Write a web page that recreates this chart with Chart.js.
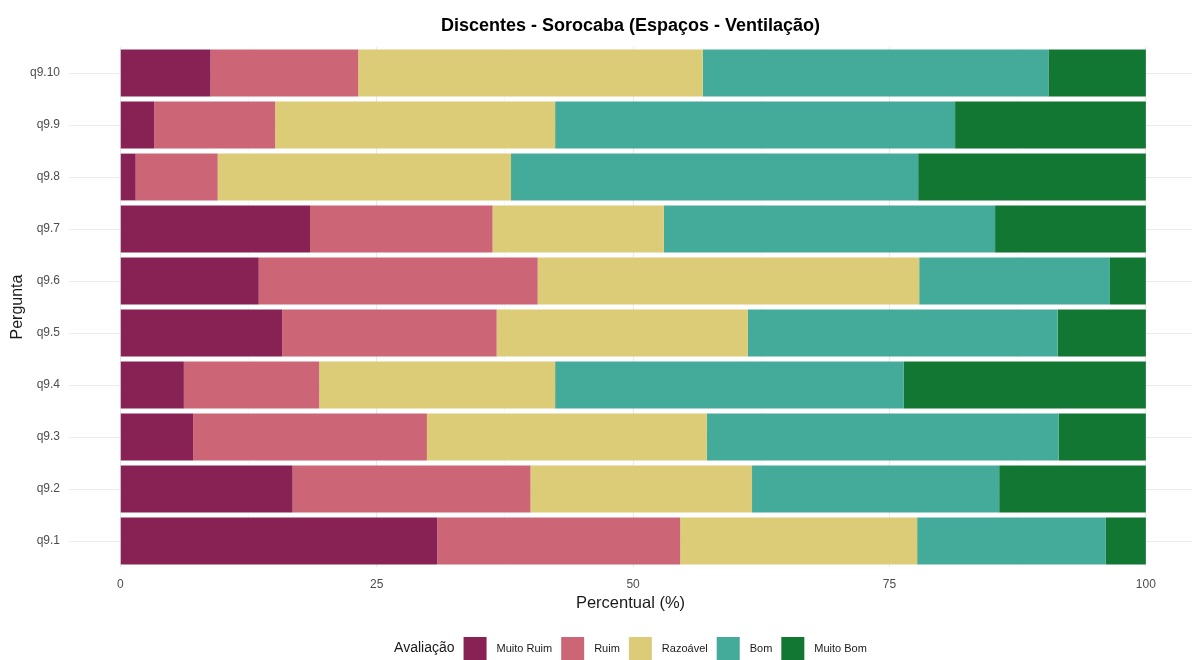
<!DOCTYPE html>
<html>
<head>
<meta charset="utf-8">
<title>Discentes - Sorocaba (Espaços - Ventilação)</title>
<script src="https://cdn.jsdelivr.net/npm/chart.js@4/dist/chart.umd.min.js"></script>
<style>
    html, body { margin: 0; padding: 0; background: #fff; }
    #chart { display: block; }
</style>
</head>
<body>
<canvas id="chart" width="1192" height="660"></canvas>
<script>
// perguntas (de baixo para cima)
var categories = ["q9.1", "q9.2", "q9.3", "q9.4", "q9.5", "q9.6", "q9.7", "q9.8", "q9.9", "q9.10"];

// percentual por avaliação
var muitoRuim = [30.9, 16.8, 7.1, 6.2, 15.8, 13.5, 18.5, 1.5, 3.3, 8.8];
var ruim      = [23.7, 23.2, 22.8, 13.2, 20.9, 27.2, 17.8, 8.0, 11.8, 14.4];
var razoavel  = [23.1, 21.6, 27.3, 23.0, 24.5, 37.2, 16.7, 28.6, 27.3, 33.6];
var bom       = [18.4, 24.1, 34.3, 34.0, 30.2, 18.6, 32.3, 39.7, 39.0, 33.7];
var muitoBom  = [3.9, 14.3, 8.5, 23.6, 8.6, 3.5, 14.7, 22.2, 18.6, 9.5];

var seriesNames = ["Muito Ruim", "Ruim", "Razoável", "Bom", "Muito Bom"];
var xTicks = [0, 12.5, 25, 37.5, 50, 62.5, 75, 87.5, 100];

var colors = ["#882255", "#CC6677", "#DDCC77", "#44AA99", "#117733"];
var seriesValues = [muitoRuim, ruim, razoavel, bom, muitoBom];

Chart.defaults.font.family = "'Liberation Sans', Arial, sans-serif";

var datasets = seriesNames.map(function (name, i) {
    return {
        label: name,
        data: seriesValues[i],
        backgroundColor: colors[i],
        borderWidth: 0,
        barPercentage: 0.9,
        categoryPercentage: 1.0
    };
});

// legenda no estilo do ggplot: título à esquerda, itens em linha
var inlineLegend = {
    id: "inlineLegend",
    afterDraw: function (chart) {
        var ctx = chart.ctx;
        var area = chart.chartArea;
        var box = 23, gapTitle = 9, gapText = 10, gapItem = 9;
        var cy = 648.5;

        ctx.save();
        ctx.font = "14px 'Liberation Sans', Arial, sans-serif";
        var titleW = ctx.measureText("Avaliação").width;
        ctx.font = "11px 'Liberation Sans', Arial, sans-serif";
        var widths = seriesNames.map(function (n) { return ctx.measureText(n).width; });

        var total = titleW + gapTitle;
        widths.forEach(function (w, i) {
            total += box + gapText + w + (i < widths.length - 1 ? gapItem : 0);
        });

        var x = (area.left + area.right) / 2 - total / 2;
        ctx.textBaseline = "middle";
        ctx.textAlign = "left";
        ctx.fillStyle = "#1a1a1a";
        ctx.font = "14px 'Liberation Sans', Arial, sans-serif";
        ctx.fillText("Avaliação", x, cy);
        x += titleW + gapTitle;

        ctx.font = "11px 'Liberation Sans', Arial, sans-serif";
        seriesNames.forEach(function (n, i) {
            ctx.fillStyle = colors[i];
            ctx.fillRect(x, cy - box / 2, box, box);
            x += box + gapText;
            ctx.fillStyle = "#1a1a1a";
            ctx.fillText(n, x, cy);
            x += widths[i] + gapItem;
        });
        ctx.restore();
    }
};

var chart = new Chart(document.getElementById("chart"), {
    type: "bar",
    data: {
        labels: categories,
        datasets: datasets
    },
    options: {
        indexAxis: "y",
        responsive: false,
        animation: false,
        layout: {
            padding: { left: 0, right: 0, top: 0, bottom: 44 }
        },
        plugins: {
            legend: { display: false },
            title: {
                display: true,
                text: "Discentes - Sorocaba (Espaços - Ventilação)",
                fullSize: false,
                color: "#000",
                font: { size: 18, weight: "bold" },
                padding: { top: 15, bottom: 10.4 }
            }
        },
        scales: {
            x: {
                stacked: true,
                min: -5,
                max: 104.5,
                afterBuildTicks: function (scale) {
                    scale.ticks = xTicks.map(function (v) { return { value: v }; });
                },
                afterFit: function (scale) {
                    scale.height = 49;
                },
                ticks: {
                    autoSkip: false,
                    maxRotation: 0,
                    padding: 10,
                    color: "#4D4D4D",
                    font: { size: 12 },
                    callback: function (v) {
                        return v % 25 === 0 ? v : "";
                    }
                },
                grid: {
                    drawTicks: false,
                    color: function (c) {
                        return c.tick && c.tick.value % 25 === 0 ? "#E8E8E8" : "#F2F2F2";
                    },
                    lineWidth: function (c) {
                        return c.tick && c.tick.value % 25 === 0 ? 1 : 0.6;
                    }
                },
                border: { display: false },
                title: {
                    display: true,
                    text: "Percentual (%)",
                    color: "#1a1a1a",
                    font: { size: 16.5 },
                    padding: { top: 4, bottom: 3 }
                }
            },
            y: {
                stacked: true,
                reverse: true,
                afterFit: function (scale) {
                    scale.width = 69;
                },
                ticks: {
                    padding: 9,
                    color: "#4D4D4D",
                    font: { size: 12 }
                },
                grid: {
                    offset: false,
                    drawTicks: false,
                    color: "#EBEBEB",
                    lineWidth: 1
                },
                border: { display: false },
                title: {
                    display: true,
                    text: "Pergunta",
                    color: "#1a1a1a",
                    font: { size: 16 },
                    padding: { top: 8, bottom: 0 }
                }
            }
        }
    },
    plugins: [inlineLegend]
});
</script>
</body>
</html>
